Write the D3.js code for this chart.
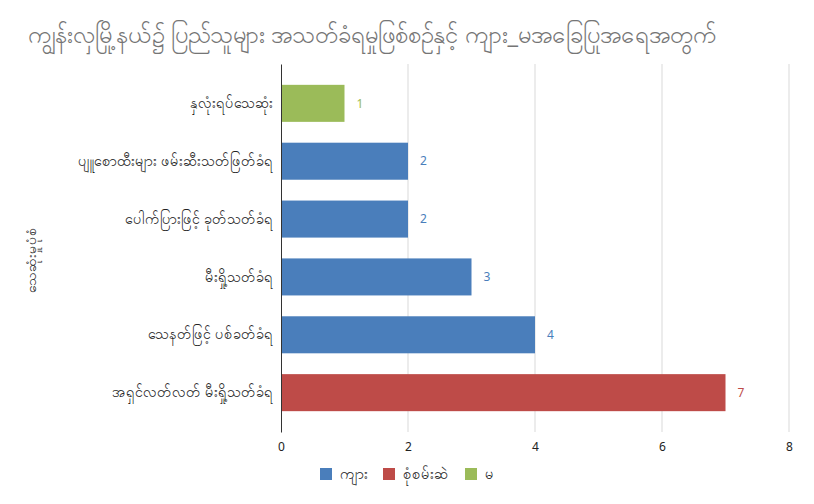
<!DOCTYPE html>
<html>
<head>
<meta charset="utf-8">
<script src="https://cdn.jsdelivr.net/npm/d3@7"></script>
<style>
body { margin: 0; background: #fff; }
text { font-family: "Noto Sans", "DejaVu Sans", sans-serif; }
</style>
</head>
<body>
<svg id="chart"></svg>
<script>
// data
const categories = ["နှလုံးရပ်သေဆုံး", "ပျူစောထီးများ ဖမ်းဆီးသတ်ဖြတ်ခံရ", "ပေါက်ပြားဖြင့် ခုတ်သတ်ခံရ",
  "မီးရှို့သတ်ခံရ", "သေနတ်ဖြင့် ပစ်ခတ်ခံရ", "အရှင်လတ်လတ် မီးရှို့သတ်ခံရ"];
const values = [1, 2, 2, 3, 4, 7];
const groups = ["မ", "ကျား", "ကျား", "ကျား", "ကျား", "စုံစမ်းဆဲ"];
const legendNames = ["ကျား", "စုံစမ်းဆဲ", "မ"];
const legendColors = ["#4a7ebb", "#be4b48", "#9bbb59"];
const xTicks = [0, 2, 4, 6, 8];

const width = 814, height = 504;
const margin = {left: 281, right: 25, top: 64, bottom: 72};

let svg = d3.select("#chart").attr("width", width).attr("height", height);
let color = d3.scaleOrdinal().domain(legendNames).range(legendColors);

let x = d3.scaleLinear().domain([0, 8]).range([margin.left, width - margin.right]);
let y = d3.scaleBand().domain(categories).range([margin.top, height - margin.bottom]).padding(0.36);

// title
svg.append("text")
  .attr("x", 28).attr("y", 43)
  .attr("font-size", 23.8)
  .attr("fill", "#757575")
  .text("ကျွန်းလှမြို့နယ်၌ ပြည်သူများ အသတ်ခံရမှုဖြစ်စဉ်နှင့် ကျား_မအခြေပြုအရေအတွက်");

// grid
svg.append("g").selectAll("line")
  .data(xTicks.slice(1))
  .enter().append("line")
  .attr("x1", d => x(d)).attr("x2", d => x(d))
  .attr("y1", margin.top).attr("y2", height - margin.bottom)
  .attr("stroke", "#d9d9d9");

// bars
svg.append("g").selectAll("rect")
  .data(categories)
  .enter().append("rect")
  .attr("x", x(0))
  .attr("y", d => y(d))
  .attr("width", (d, i) => x(values[i]) - x(0))
  .attr("height", y.bandwidth())
  .attr("fill", (d, i) => color(groups[i]));

// value labels
svg.append("g").selectAll("text")
  .data(categories)
  .enter().append("text")
  .attr("x", (d, i) => x(values[i]) + 12)
  .attr("y", d => y(d) + y.bandwidth() / 2)
  .attr("dy", "0.35em")
  .attr("font-size", 12)
  .attr("font-family", "Roboto, sans-serif")
  .attr("fill", (d, i) => color(groups[i]))
  .text((d, i) => values[i]);

// axes
let axisY = svg.append("g")
  .attr("transform", `translate(${margin.left},0)`)
  .call(d3.axisLeft(y).tickSize(0).tickPadding(8));
axisY.select(".domain").attr("stroke", "#333");
axisY.selectAll("text").attr("font-size", 14.4).attr("fill", "#222");

let axisX = svg.append("g")
  .attr("transform", `translate(0,${height - margin.bottom})`)
  .call(d3.axisBottom(x).tickValues(xTicks).tickSize(0).tickPadding(10));
axisX.select(".domain").remove();
axisX.selectAll("text").attr("font-size", 12).attr("fill", "#222")
  .attr("font-family", "'Liberation Sans Narrow', 'Liberation Sans', sans-serif");

// y axis title
svg.append("text")
  .attr("transform", `translate(36,${(margin.top + height - margin.bottom) / 2 + 12}) rotate(-90)`)
  .attr("text-anchor", "middle")
  .attr("font-size", 14)
  .attr("fill", "#222")
  .text("သေဆုံးမှုပုံစံ");

// legend
let legendX = [320, 383, 465];
let lg = svg.append("g").selectAll("g")
  .data(legendNames)
  .enter().append("g")
  .attr("transform", (d, i) => `translate(${legendX[i]},468)`);
lg.append("rect").attr("width", 12).attr("height", 12).attr("fill", d => color(d));
lg.append("text").attr("x", 20).attr("y", 6).attr("dy", "0.35em")
  .attr("font-size", 14.5).attr("fill", "#222").text(d => d);
</script>
</body>
</html>
